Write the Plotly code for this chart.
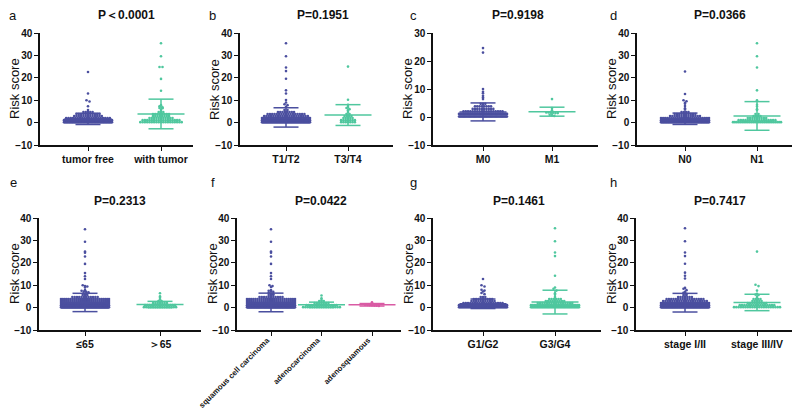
import numpy as np
import plotly.graph_objects as go

W, H = 800, 409

# ---- data ----
# the crowded low part of every group is given as patient counts per score level,
# the scattered higher scores are listed one by one
score_levels = [0.2, 1.1, 2.0, 2.9, 3.8, 4.7, 5.6]

a_labels = ["tumor free", "with tumor"]
a_free_counts = [66, 40, 20, 13, 11, 5, 1]
a_free_high = [22.6, 13.0, 10.0, 9.4, 7.3]
a_with_counts = [19, 17, 11, 8, 8, 3, 1]
a_with_high = [35.4, 29.6, 24.8, 24.8, 19.5, 14.2, 7.8, 7.3, 6.8, 6.5, 6.4]

b_labels = ["T1/T2", "T3/T4"]
b_t12_counts = [78, 52, 30, 20, 17, 8, 2]
b_t12_high = [35.4, 29.6, 24.6, 23.0, 19.6, 14.4, 13.0, 10.1, 9.0, 8.2, 7.8, 7.0]
b_t34_counts = [7, 7, 5, 4, 2, 1, 0]
b_t34_high = [25.0, 10.2, 8.0, 7.0, 6.5, 6.0, 5.5]

c_labels = ["M0", "M1"]
c_m0_counts = [58, 37, 18, 10, 8, 3, 0]
c_m0_high = [24.6, 23.0, 10.0, 9.0, 8.5, 7.6, 7.0, 6.4]
c_m1_counts = [0, 0, 0, 0, 0, 0, 0]
c_m1_high = [6.4, 3.2, 2.4, 1.6, 1.6, 1.5, 1.5, 1.4, 1.4, 0.8, 0.6, 0.4]

d_labels = ["N0", "N1"]
d_n0_counts = [68, 48, 24, 14, 10, 4, 0]
d_n0_high = [22.8, 12.8, 10.0, 9.5, 8.8, 8.4, 7.4, 6.4, 5.8]
d_n1_counts = [27, 17, 9, 4, 2, 0, 0]
d_n1_high = [35.4, 29.6, 24.6, 14.4, 10.0, 8.0, 7.2, 6.0, 5.6]

e_labels = ["≤65", "＞65"]
e_le65_counts = [115, 68, 36, 26, 26, 12, 3]
e_le65_high = [35.0, 29.4, 25.0, 24.5, 22.8, 19.5, 15.4, 14.0, 12.8, 10.0, 9.6, 9.4, 9.0,
               7.8, 7.5, 7.2, 7.0, 6.8, 6.4, 6.1]
e_gt65_counts = [15, 14, 7, 2, 0, 0, 0]
e_gt65_high = [6.4, 5.0, 4.4, 3.6]

f_labels = ["squamous cell carcinoma", "adenocarcinoma", "adenosquamous"]
f_sq_counts = [110, 65, 34, 24, 24, 11, 3]
f_sq_high = [35.0, 29.4, 25.0, 24.5, 22.8, 19.5, 15.4, 14.0, 12.8, 10.0, 9.6, 9.2, 7.8,
             7.5, 7.2, 7.0, 6.6, 6.3, 6.0]
f_ad_counts = [17, 14, 7, 3, 0, 0, 0]
f_ad_high = [5.4, 4.2, 3.4]
f_as_counts = [0, 0, 0, 0, 0, 0, 0]
f_as_high = [2.4, 1.9, 1.3, 1.2, 1.1, 1.0, 0.9, 0.8, 0.7]

g_labels = ["G1/G2", "G3/G4"]
g_g12_counts = [52, 36, 18, 11, 9, 3, 0]
g_g12_high = [12.8, 10.0, 9.4, 8.0, 7.6, 7.2, 6.5, 6.0]
g_g34_counts = [46, 31, 16, 9, 6, 1, 0]
g_g34_high = [35.4, 29.6, 24.6, 23.0, 14.2, 9.0, 8.4, 7.6, 6.4, 5.8]

h_labels = ["stage I/II", "stage III/IV"]
h_s12_counts = [90, 63, 34, 20, 17, 7, 2]
h_s12_high = [35.4, 29.6, 24.6, 23.0, 19.6, 15.6, 14.2, 13.0, 8.8, 8.4, 7.8, 7.0, 6.6, 6.2]
h_s34_counts = [21, 16, 9, 5, 4, 1, 0]
h_s34_high = [25.0, 10.2, 9.6, 7.6, 6.2, 5.8, 5.6]

p_values = ["P＜0.0001", "P=0.1951", "P=0.9198", "P=0.0366",
            "P=0.2313", "P=0.0422", "P=0.1461", "P=0.7417"]
letters = ["a", "b", "c", "d", "e", "f", "g", "h"]

groups = [[(a_free_counts, a_free_high), (a_with_counts, a_with_high)],
          [(b_t12_counts, b_t12_high), (b_t34_counts, b_t34_high)],
          [(c_m0_counts, c_m0_high), (c_m1_counts, c_m1_high)],
          [(d_n0_counts, d_n0_high), (d_n1_counts, d_n1_high)],
          [(e_le65_counts, e_le65_high), (e_gt65_counts, e_gt65_high)],
          [(f_sq_counts, f_sq_high), (f_ad_counts, f_ad_high), (f_as_counts, f_as_high)],
          [(g_g12_counts, g_g12_high), (g_g34_counts, g_g34_high)],
          [(h_s12_counts, h_s12_high), (h_s34_counts, h_s34_high)]]
labels = [a_labels, b_labels, c_labels, d_labels, e_labels, f_labels, g_labels, h_labels]
yranges = [[-10, 40], [-10, 40], [-10, 30], [-10, 40],
           [-10, 40], [-10, 40], [-10, 40], [-10, 40]]

colors = ["#4b4f9f", "#4fc79e", "#d95ba4"]

# pixel layout of each panel: y axis x, tick centres, right end of x axis
geom = [(32, [80, 153], 185), (232, [278, 340], 385), (425, [475, 544], 590), (629, [677, 749], 792),
        (31, [77, 152], 193), (229, [263, 313, 364], 393), (425, [475, 547], 593), (628, [677, 749], 793)]
rows_px = [(25, 137), (210, 322)]
title_y = [7, 193]
letter_y = [7, 175]
title_x = [118, 315, 510, 712, 112, 313, 511, 712]


def swarm(vals, px_per_y, px_per_cat, dot=2.3, maxw=48.0, row_px=2.0):
    # column scatter: points of about the same height share a row, spread sideways
    vals = np.asarray(vals, float)
    rows = np.round(vals * px_per_y / row_px).astype(int)
    off = np.zeros(len(vals))
    for r in np.unique(rows):
        idx = np.where(rows == r)[0]
        k = len(idx)
        step = 3.0 if k < 3 else min(dot, maxw / (k - 1))
        off[idx] = (np.arange(k) - (k - 1) / 2) * step / px_per_cat
    return off


fig = go.Figure()
FONT = "Arial, Liberation Sans, sans-serif"
bold = dict(family=FONT, size=10, color="#111", weight="bold")

for i in range(8):
    n = "" if i == 0 else str(i + 1)
    ax_left, ticks, ax_right = geom[i]
    top, bot = rows_px[i // 4]
    spacing = (ticks[-1] - ticks[0]) / (len(ticks) - 1)
    x0 = (ax_left - ticks[0]) / spacing
    x1 = (ax_right - ticks[0]) / spacing
    yr = yranges[i]
    px_per_y = (bot - top) / (yr[1] - yr[0])

    for j, (counts, high) in enumerate(groups[i]):
        col = colors[j]
        vals = np.concatenate([np.repeat(score_levels, counts), high])
        xs = j + swarm(vals, px_per_y, spacing)
        fig.add_trace(go.Scatter(x=xs, y=vals, mode="markers", xaxis="x" + n, yaxis="y" + n,
                                 marker=dict(size=2.6, color=col, line=dict(width=0)),
                                 showlegend=False, hoverinfo="y"))
        m = float(np.mean(vals))
        sd = float(np.std(vals, ddof=1))
        hw = 23.5 / spacing
        cw = 12.5 / spacing
        ex = [j - hw, j + hw, None, j, j, None, j - cw, j + cw, None, j - cw, j + cw]
        ey = [m, m, None, m - sd, m + sd, None, m + sd, m + sd, None, m - sd, m - sd]
        fig.add_trace(go.Scatter(x=ex, y=ey, mode="lines", xaxis="x" + n, yaxis="y" + n,
                                 line=dict(color=col, width=1.5), showlegend=False,
                                 hoverinfo="skip"))

    fig.update_layout({
        "xaxis" + n: dict(domain=[ax_left / W, ax_right / W], anchor="y" + n, range=[x0, x1],
                          tickvals=list(range(len(labels[i]))), ticktext=labels[i],
                          tickangle=-45 if i == 5 else 0, automargin=False,
                          ticklabeloverflow="allow", ticklabelshift=-4 if i == 5 else 0,
                          ticklabelstandoff=-3 if i == 5 else 0,
                          showline=True, linecolor="#111", linewidth=1.5, ticks="outside",
                          ticklen=4, tickwidth=1.3, tickcolor="#111", showgrid=False,
                          zeroline=False, tickfont=dict(bold, size=7.8 if i == 5 else 10.5),
                          fixedrange=True),
        "yaxis" + n: dict(domain=[1 - bot / H, 1 - top / H], anchor="x" + n, range=yr,
                          dtick=10, showline=True, linecolor="#111", linewidth=1.5,
                          automargin=False, ticks="outside", ticklen=4, tickwidth=1.3,
                          tickcolor="#111", showgrid=False, zeroline=False, tickfont=bold,
                          fixedrange=True),
    })

    r = i // 4
    fig.add_annotation(x=title_x[i] / W, y=1 - title_y[r] / H, xref="paper", yref="paper",
                       text=p_values[i], showarrow=False, xanchor="center", yanchor="middle",
                       font=dict(family=FONT, size=12, color="#111", weight="bold"))
    fig.add_annotation(x=(200 * (i % 4) + 5) / W, y=1 - letter_y[r] / H, xref="paper",
                       yref="paper", text=letters[i], showarrow=False, xanchor="center",
                       yanchor="middle", font=dict(family=FONT, size=13, color="#111"))
    fig.add_annotation(x=(ax_left - 25) / W, y=1 - (top + bot) / 2 / H, xref="paper",
                       yref="paper", text="Risk score", textangle=-90, showarrow=False,
                       xanchor="center", yanchor="middle",
                       font=dict(family=FONT, size=13, color="#111"))

fig.update_layout(width=W, height=H, margin=dict(l=0, r=0, t=0, b=0),
                  paper_bgcolor="white", plot_bgcolor="white")
fig.write_html("out.html")
